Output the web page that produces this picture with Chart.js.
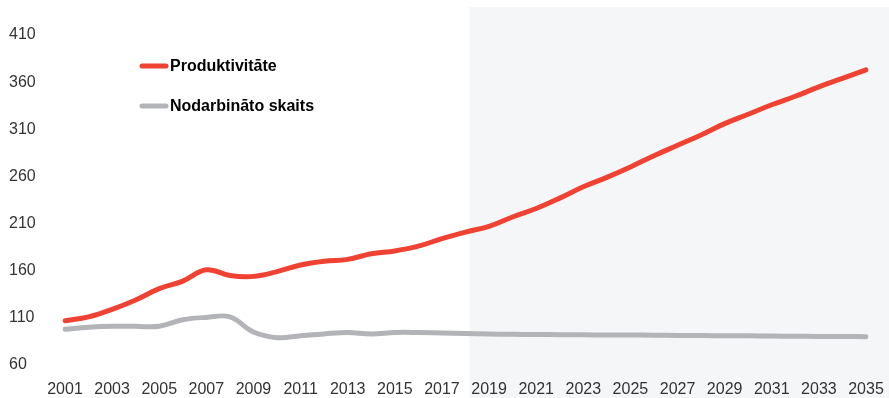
<!DOCTYPE html>
<html>
<head>
<meta charset="utf-8">
<script src="https://cdn.jsdelivr.net/npm/chart.js@4"></script>
<style>
  html, body { margin: 0; padding: 0; background: #fff; }
  #wrap { width: 889px; height: 398px; position: relative; }
</style>
</head>
<body>
<div id="wrap"><canvas id="chart"></canvas></div>
<script>
// data
const years = [];
for (let y = 2001; y <= 2035; y++) years.push(String(y));

const productivity = [107, 111, 119, 129, 141, 149, 161, 155, 154, 159,
  166, 170, 172, 178, 181, 186, 194, 201, 207, 217,
  226, 237, 249, 259, 270, 282, 293, 304, 316, 326,
  336, 345, 355, 364, 373];

const employment = [98, 100, 101, 101, 101, 108, 110.5, 111, 95, 89,
  91, 93, 94.5, 93, 94.5, 94.5, 94, 93.5, 93, 92.5,
  92.3, 92.2, 92, 91.9, 91.8, 91.6, 91.4, 91.2, 91, 90.9,
  90.7, 90.5, 90.3, 90.2, 90];

const seriesNames = ["Produktivitāte", "Nodarbināto skaits"];
const yTicks = [60, 110, 160, 210, 260, 310, 360, 410];
const forecastFrom = 2018.17; // start of shaded forecast band

const RED = "#ef4232";
const GREY = "#b2b4b7";
const FONT = "'Liberation Sans', Arial, sans-serif";

// shaded forecast background
const shadePlugin = {
  id: "shade",
  beforeDraw(chart) {
    const { ctx, scales: { x }, chartArea } = chart;
    const i = forecastFrom - 2001;
    const p0 = x.getPixelForValue(Math.floor(i));
    const p1 = x.getPixelForValue(Math.floor(i) + 1);
    const left = p0 + (p1 - p0) * (i - Math.floor(i));
    ctx.save();
    ctx.fillStyle = "#f5f6f8";
    ctx.fillRect(left, chartArea.top - 28, chart.width - left, chart.height);
    ctx.restore();
  }
};

// legend inside top-left
const legendPlugin = {
  id: "lineLegend",
  afterDraw(chart) {
    const { ctx } = chart;
    const rows = [[RED, seriesNames[0], 66], [GREY, seriesNames[1], 106]];
    ctx.save();
    rows.forEach(([col, txt, y]) => {
      ctx.strokeStyle = col;
      ctx.lineWidth = 5;
      ctx.lineCap = "round";
      ctx.beginPath();
      ctx.moveTo(142, y);
      ctx.lineTo(166, y);
      ctx.stroke();
      ctx.fillStyle = "#000";
      ctx.font = "bold 16px " + FONT;
      ctx.textBaseline = "middle";
      ctx.fillText(txt, 170, y + 1);
    });
    ctx.restore();
  }
};

new Chart(document.getElementById("chart"), {
  type: "line",
  data: {
    labels: years,
    datasets: [
      { label: seriesNames[1], data: employment, borderColor: GREY, borderWidth: 5,
        pointRadius: 0, tension: 0.4, borderCapStyle: "round" },
      { label: seriesNames[0], data: productivity, borderColor: RED, borderWidth: 5,
        pointRadius: 0, tension: 0.4, borderCapStyle: "round" }
    ]
  },
  options: {
    responsive: true,
    maintainAspectRatio: false,
    animation: false,
    layout: { padding: { left: 9, right: 23, top: 35, bottom: 0 } },
    plugins: { legend: { display: false }, tooltip: { enabled: false } },
    scales: {
      x: {
        grid: { display: false, drawTicks: false },
        border: { display: false },
        ticks: {
          autoSkip: false, maxRotation: 0, padding: 15,
          color: "#333", font: { family: FONT, size: 16 },
          callback: (v, i) => (i % 2 === 0 ? years[i] : "")
        },
        afterFit: s => { s.height = 33; s.paddingLeft = 0; s.paddingRight = 0; }
      },
      y: {
        min: 60, max: 410,
        grid: { display: false, drawTicks: false },
        border: { display: false },
        afterBuildTicks: s => { s.ticks = yTicks.map(v => ({ value: v })); },
        ticks: { crossAlign: "far", color: "#333", font: { family: FONT, size: 16 } },
        afterFit: s => { s.width = 56; }
      }
    }
  },
  plugins: [shadePlugin, legendPlugin]
});
</script>
</body>
</html>
